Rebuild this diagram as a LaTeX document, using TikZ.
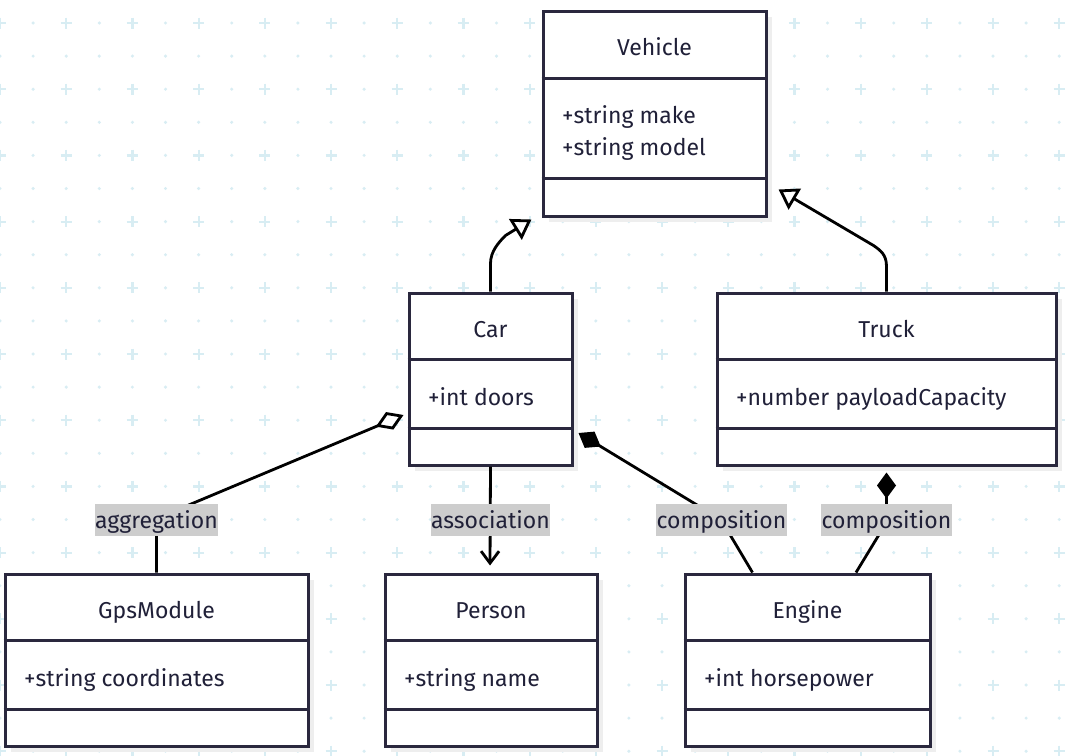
\documentclass[tikz,border=0pt]{standalone}
\usepackage{fontspec}
\setmainfont{Fira Sans}
\usetikzlibrary{arrows.meta,calc}
\definecolor{gridc}{RGB}{216,237,243}
\definecolor{boxc}{RGB}{42,40,62}
\definecolor{txtc}{RGB}{32,32,56}
\definecolor{shadc}{RGB}{238,238,238}
\definecolor{labc}{RGB}{205,205,205}
\newcommand\umlclass[5]{% name, cx, cy, w, h
  \fill[shadc] (#2-#4/2+6,#3-#5/2+6) rectangle (#2+#4/2+6,#3+#5/2+6);
  \node[cls, minimum width=#4pt, minimum height=#5pt] (#1) at (#2,#3) {};
}
\begin{document}
\begin{tikzpicture}[x=1pt,y=-1pt,
  cls/.style={draw=boxc, line width=3pt, fill=white, inner sep=0pt},
  divline/.style={draw=boxc, line width=3pt},
  ttl/.style={anchor=base, text=txtc, font=\fontsize{23}{27}\selectfont, inner sep=0pt},
  attr/.style={anchor=base west, text=txtc, font=\fontsize{23}{27}\selectfont, inner sep=0pt},
  lab/.style={anchor=base, text=txtc, fill=labc, font=\fontsize{23}{27}\selectfont, inner xsep=0.5pt, inner ysep=0pt, text height=24pt, text depth=8pt},
  conn/.style={draw=black, line width=2.8pt},
  gen/.style={conn, -{Triangle[open, fill=white, length=19pt, width=24pt]}},
  agg/.style={conn, -{Diamond[open, fill=white, length=30pt, width=19pt]}},
  comp/.style={conn, -{Diamond[length=26pt, width=19pt]}},
  assoc/.style={conn, -{Straight Barb[length=12pt, width=18pt]}}
]
\useasboundingbox (0,0) rectangle (1065,755);
\fill[white] (0,0) rectangle (1065,755);
% background grid
\foreach \i in {0,...,32} {
  \foreach \j in {0,...,22} {
    \pgfmathsetmacro\gx{33.1*\i}
    \pgfmathsetmacro\gy{23+33.1*\j}
    \ifodd\i
      \fill[gridc] (\gx,\gy) circle (1.7);
    \else
      \ifodd\j
        \fill[gridc] (\gx,\gy) circle (1.7);
      \else
        \draw[gridc, line width=2.2pt] (\gx-5.5,\gy) -- (\gx+5.5,\gy) (\gx,\gy-5.5) -- (\gx,\gy+5.5);
      \fi
    \fi
  }
}
% classes
\umlclass{veh}{654.5}{113.5}{223}{205}
\umlclass{car}{490.5}{379}{163}{172}
\umlclass{truck}{886.5}{379}{339}{172}
\umlclass{gps}{156.5}{660}{303}{172}
\umlclass{person}{491}{660}{212}{172}
\umlclass{engine}{807.5}{660}{245}{172}
% dividers
\draw[divline] ($(veh.north west)+(0,69)$) -- ($(veh.north east)+(0,69)$);
\draw[divline] ($(veh.north west)+(0,169)$) -- ($(veh.north east)+(0,169)$);
\foreach \n in {car,truck,gps,person,engine} {
  \draw[divline] ($(\n.north west)+(0,68)$) -- ($(\n.north east)+(0,68)$);
  \draw[divline] ($(\n.north west)+(0,137)$) -- ($(\n.north east)+(0,137)$);
}
% texts
\node[ttl] (vehT) at (654.5,55) {Vehicle};
\node[attr] (vehA1) at (562,123) {+string make};
\node[attr] (vehA2) at (562,155) {+string model};
\node[ttl] (carT) at (490.5,337) {Car};
\node[attr] (carA) at (428,405) {+int doors};
\node[ttl] (truckT) at (886.5,337) {Truck};
\node[attr] (truckA) at (736,405) {+number payloadCapacity};
\node[ttl] (gpsT) at (156.5,618) {GpsModule};
\node[attr] (gpsA) at (24,686) {+string coordinates};
\node[ttl] (personT) at (491,618) {Person};
\node[attr] (personA) at (404,686) {+string name};
\node[ttl] (engineT) at (807.5,618) {Engine};
\node[attr] (engineA) at (704,686) {+int horsepower};
% connectors
\coordinate (genCarEnd) at ($(veh.south west)+(-10,2)$);
\coordinate (genTruckEnd) at ($(veh.south east)+(11,-28)$);
\draw[gen] (car.north) -- ++(0,-28) .. controls +(0,-12) and +(-7,7) .. ($(car.north)+(15,-56)$) -- (genCarEnd);
\draw[gen] (truck.north) -- ++(0,-25) .. controls +(0,-12) and +(7,5) .. ($(truck.north)+(-13,-46)$) -- (genTruckEnd);
\coordinate (aggEnd) at ($(car.west)+(-4,36)$);
\draw[agg] (gps.north) -- ($(gps.north)+(0,-54)$) -- (aggEnd);
\draw[assoc] (car.south) -- ($(person.north)+(-1,-7)$);
\coordinate (compCarEnd) at ($(car.east)+(5,54)$);
\draw[comp] ($(engine.north)+(-55,0)$) -- ($(engine.north)+(-80,-42)$) .. controls +(-7,-10) and +(12,6) .. ($(engine.north)+(-108,-66)$) -- (compCarEnd);
\coordinate (compTruckEnd) at ($(truck.south)+(0,6)$);
\draw[comp] ($(engine.north)+(48.5,0)$) -- ($(engine.north)+(71,-37)$) .. controls +(5,-9) and +(0,8) .. ($(engine.north)+(79,-62)$) -- (compTruckEnd);
% labels
\node[lab] (labAgg) at (156.5,528) {aggregation};
\node[lab] (labAssoc) at (490.5,528) {association};
\node[lab] (labComp1) at (721.5,528) {composition};
\node[lab] (labComp2) at (886.5,528) {composition};
\end{tikzpicture}
\end{document}
